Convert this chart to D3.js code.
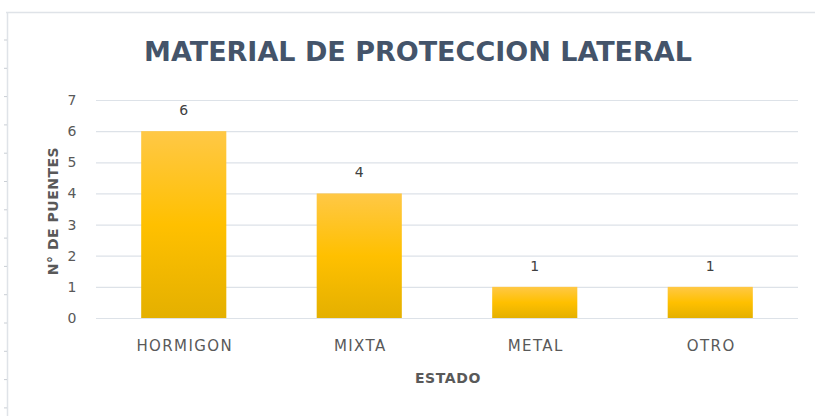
<!DOCTYPE html>
<html>
<head>
<meta charset="utf-8">
<script src="https://cdn.jsdelivr.net/npm/d3@7"></script>
<style>
  body { margin: 0; background: #fff; }
  svg { display: block; font-family: "DejaVu Sans", sans-serif; }
</style>
</head>
<body>
<script>
var categories = ['HORMIGON', 'MIXTA', 'METAL', 'OTRO'];
var values = [6, 4, 1, 1];
var yTicks = [0, 1, 2, 3, 4, 5, 6, 7];

var W = 815, H = 416;
var margin = {top: 100, right: 17, bottom: 98, left: 96};

var svg = d3.select('body').append('svg')
  .attr('width', W)
  .attr('height', H);

// frame lines (top and left edge)
svg.append('line').attr('x1', 6).attr('x2', W).attr('y1', 12.5).attr('y2', 12.5)
  .attr('stroke', '#dfe3e8').attr('stroke-width', 1.5);
svg.append('line').attr('x1', 7.5).attr('x2', 7.5).attr('y1', 12).attr('y2', H)
  .attr('stroke', '#dfe3e8').attr('stroke-width', 1.5);
for (var ty = 40; ty < H; ty += 28.3) {
  svg.append('line').attr('x1', 4).attr('x2', 7).attr('y1', ty).attr('y2', ty)
    .attr('stroke', '#c9ced4');
}

var defs = svg.append('defs');
var grad = defs.append('linearGradient').attr('id', 'barGrad')
  .attr('x1', 0).attr('x2', 0).attr('y1', 0).attr('y2', 1);
grad.append('stop').attr('offset', '0%').attr('stop-color', '#ffc846');
grad.append('stop').attr('offset', '50%').attr('stop-color', '#ffc000');
grad.append('stop').attr('offset', '100%').attr('stop-color', '#e4b000');

var x = d3.scaleBand().domain(categories)
  .range([margin.left, W - margin.right]).paddingInner(0.515).paddingOuter(0.2575);
var y = d3.scaleLinear().domain([0, 7]).range([H - margin.bottom, margin.top]);

// gridlines
svg.append('g').selectAll('line').data(yTicks).enter().append('line')
  .attr('x1', margin.left).attr('x2', W - margin.right)
  .attr('y1', function(d) { return y(d) + 0.5; })
  .attr('y2', function(d) { return y(d) + 0.5; })
  .attr('stroke', '#dde2e8').attr('stroke-width', 1.2);

// y axis tick labels
var yAxis = svg.append('g')
  .attr('transform', 'translate(72,0)')
  .call(d3.axisLeft(y).tickValues(yTicks).tickSize(0).tickPadding(0).tickFormat(d3.format('d')));
yAxis.select('.domain').remove();
yAxis.selectAll('text')
  .attr('text-anchor', 'middle').attr('dx', 0)
  .style('font-size', '14px').style('fill', '#595959')
  .style('font-family', '"DejaVu Sans", sans-serif');

// bars
svg.append('g').selectAll('rect').data(values).enter().append('rect')
  .attr('x', function(d, i) { return x(categories[i]); })
  .attr('y', function(d) { return y(d); })
  .attr('width', x.bandwidth())
  .attr('height', function(d) { return y(0) - y(d); })
  .attr('fill', 'url(#barGrad)');

// value labels
svg.append('g').selectAll('text').data(values).enter().append('text')
  .attr('x', function(d, i) { return x(categories[i]) + x.bandwidth() / 2; })
  .attr('y', function(d) { return y(d) - 16; })
  .attr('text-anchor', 'middle')
  .style('font-size', '14px').style('fill', '#404040')
  .text(function(d) { return d; });

// x axis labels
var xAxis = svg.append('g')
  .attr('transform', 'translate(1,' + (y(0) + 22) + ')')
  .call(d3.axisBottom(x).tickSize(0).tickPadding(0));
xAxis.select('.domain').remove();
xAxis.selectAll('text')
  .style('font-size', '15px').style('fill', '#595959')
  .style('letter-spacing', '1.4px')
  .style('font-family', '"DejaVu Sans", sans-serif');

// title
svg.append('text')
  .attr('x', 418).attr('y', 61)
  .attr('text-anchor', 'middle')
  .style('font-size', '27px').style('font-weight', 'bold').style('fill', '#44546a')
  .text('MATERIAL DE PROTECCION LATERAL');

// axis titles
svg.append('text')
  .attr('x', (margin.left + W - margin.right) / 2 + 1).attr('y', 383)
  .attr('text-anchor', 'middle')
  .style('font-size', '14px').style('font-weight', 'bold').style('fill', '#595959')
  .style('letter-spacing', '0.6px')
  .text('ESTADO');

svg.append('text')
  .attr('transform', 'translate(58,' + ((y(0) + y(7)) / 2 + 2) + ') rotate(-90)')
  .attr('text-anchor', 'middle')
  .style('font-size', '14px').style('font-weight', 'bold').style('fill', '#595959')
  .style('letter-spacing', '0.5px')
  .text('N° DE PUENTES');
</script>
</body>
</html>
